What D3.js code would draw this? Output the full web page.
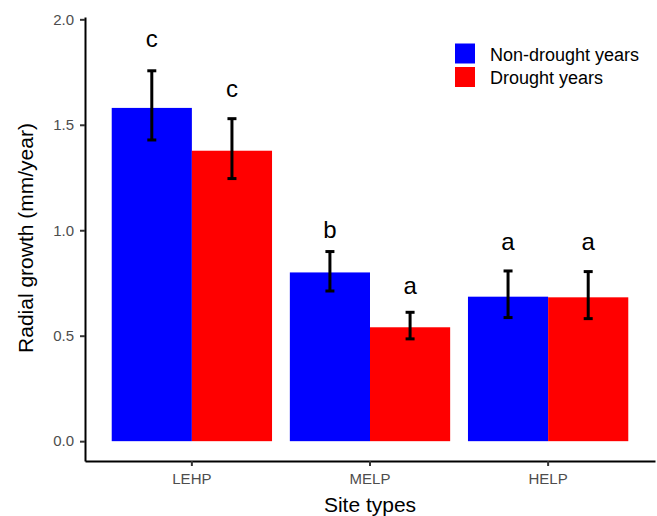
<!DOCTYPE html>
<html>
<head>
<meta charset="utf-8">
<script src="https://cdn.jsdelivr.net/npm/d3@7"></script>
<style>
  body { margin: 0; background: #fff; }
  text { font-family: Arial, "Liberation Sans", sans-serif; }
</style>
</head>
<body>
<div id="chart"></div>
<script>
const sites = ["LEHP", "MELP", "HELP"];
const groups = ["Non-drought years", "Drought years"];
const nonDrought = [1.58, 0.80, 0.685];
const drought = [1.377, 0.54, 0.682];
const nonDroughtLow = [1.428, 0.712, 0.586];
const nonDroughtHigh = [1.756, 0.899, 0.807];
const droughtLow = [1.245, 0.485, 0.581];
const droughtHigh = [1.529, 0.611, 0.804];
const nonDroughtLetters = ["c", "b", "a"];
const droughtLetters = ["c", "a", "a"];
const nonDroughtLetterY = [1.87, 0.963, 0.906];
const droughtLetterY = [1.632, 0.698, 0.906];
const yTicks = [0, 0.5, 1.0, 1.5, 2.0];
const colors = ["#0000FF", "#FF0000"];

const width = 657, height = 516;

// rows per site and group
var rows = [];
sites.forEach((s, i) => {
  rows.push({ site: s, group: groups[0], value: nonDrought[i], lo: nonDroughtLow[i], hi: nonDroughtHigh[i], letter: nonDroughtLetters[i], ly: nonDroughtLetterY[i] });
  rows.push({ site: s, group: groups[1], value: drought[i], lo: droughtLow[i], hi: droughtHigh[i], letter: droughtLetters[i], ly: droughtLetterY[i] });
});

var svg = d3.select("#chart").append("svg")
  .attr("width", width)
  .attr("height", height);

var x = d3.scaleBand().domain(sites).range([85, 655])
  .paddingInner(0.1).paddingOuter(0.15);
var xSub = d3.scaleBand().domain(groups).range([0, x.bandwidth()]).padding(0);
var y = d3.scaleLinear().domain([-0.094, 2.011]).range([461, 17]);
var color = d3.scaleOrdinal().domain(groups).range(colors);

// bars
svg.append("g")
  .selectAll("rect")
  .data(rows)
  .enter()
  .append("rect")
  .attr("x", (d) => x(d.site) + xSub(d.group))
  .attr("y", (d) => y(d.value))
  .attr("width", xSub.bandwidth())
  .attr("height", (d) => y(0) - y(d.value))
  .attr("fill", (d) => color(d.group));

// error bars
var err = svg.append("g")
  .selectAll("g")
  .data(rows)
  .enter()
  .append("g")
  .attr("stroke", "#000")
  .attr("stroke-width", 3);
var cx = (d) => x(d.site) + xSub(d.group) + xSub.bandwidth() / 2;
err.append("line")
  .attr("x1", cx).attr("x2", cx)
  .attr("y1", (d) => y(d.lo)).attr("y2", (d) => y(d.hi));
err.append("line")
  .attr("x1", (d) => cx(d) - 4.5).attr("x2", (d) => cx(d) + 4.5)
  .attr("y1", (d) => y(d.hi)).attr("y2", (d) => y(d.hi));
err.append("line")
  .attr("x1", (d) => cx(d) - 4.5).attr("x2", (d) => cx(d) + 4.5)
  .attr("y1", (d) => y(d.lo)).attr("y2", (d) => y(d.lo));

// significance letters
svg.append("g")
  .selectAll("text")
  .data(rows)
  .enter()
  .append("text")
  .attr("x", cx)
  .attr("y", (d) => y(d.ly))
  .attr("text-anchor", "middle")
  .attr("font-size", 24)
  .attr("fill", "#000")
  .text((d) => d.letter);

// axes
var yAxis = svg.append("g")
  .attr("transform", "translate(85,0)")
  .call(d3.axisLeft(y).tickValues(yTicks).tickFormat(d3.format(".1f")).tickSize(5).tickSizeOuter(0).tickPadding(6));
var xAxis = svg.append("g")
  .attr("transform", "translate(0,461)")
  .call(d3.axisBottom(x).tickSize(5).tickSizeOuter(0).tickPadding(7));

[yAxis, xAxis].forEach((a) => {
  a.select(".domain").attr("stroke", "#000").attr("stroke-width", 2);
  a.selectAll(".tick line").attr("stroke", "#333").attr("stroke-width", 2);
  a.selectAll(".tick text")
    .attr("fill", "#4D4D4D")
    .attr("font-size", 15)
    .attr("font-family", "Arial, 'Liberation Sans', sans-serif");
});

// axis titles
svg.append("text")
  .attr("x", 370)
  .attr("y", 512)
  .attr("text-anchor", "middle")
  .attr("font-size", 21)
  .text("Site types");
svg.append("text")
  .attr("transform", "translate(33,238) rotate(-90)")
  .attr("text-anchor", "middle")
  .attr("font-size", 21)
  .text("Radial growth (mm/year)");

// legend
var legend = svg.append("g")
  .selectAll("g")
  .data(groups)
  .enter()
  .append("g")
  .attr("transform", (d, i) => `translate(455,${43.5 + i * 23.5})`);
legend.append("rect")
  .attr("width", 20)
  .attr("height", 20)
  .attr("fill", (d) => color(d));
legend.append("text")
  .attr("x", 35)
  .attr("y", 17)
  .attr("font-size", 18)
  .attr("fill", "#000")
  .text((d) => d);
</script>
</body>
</html>
